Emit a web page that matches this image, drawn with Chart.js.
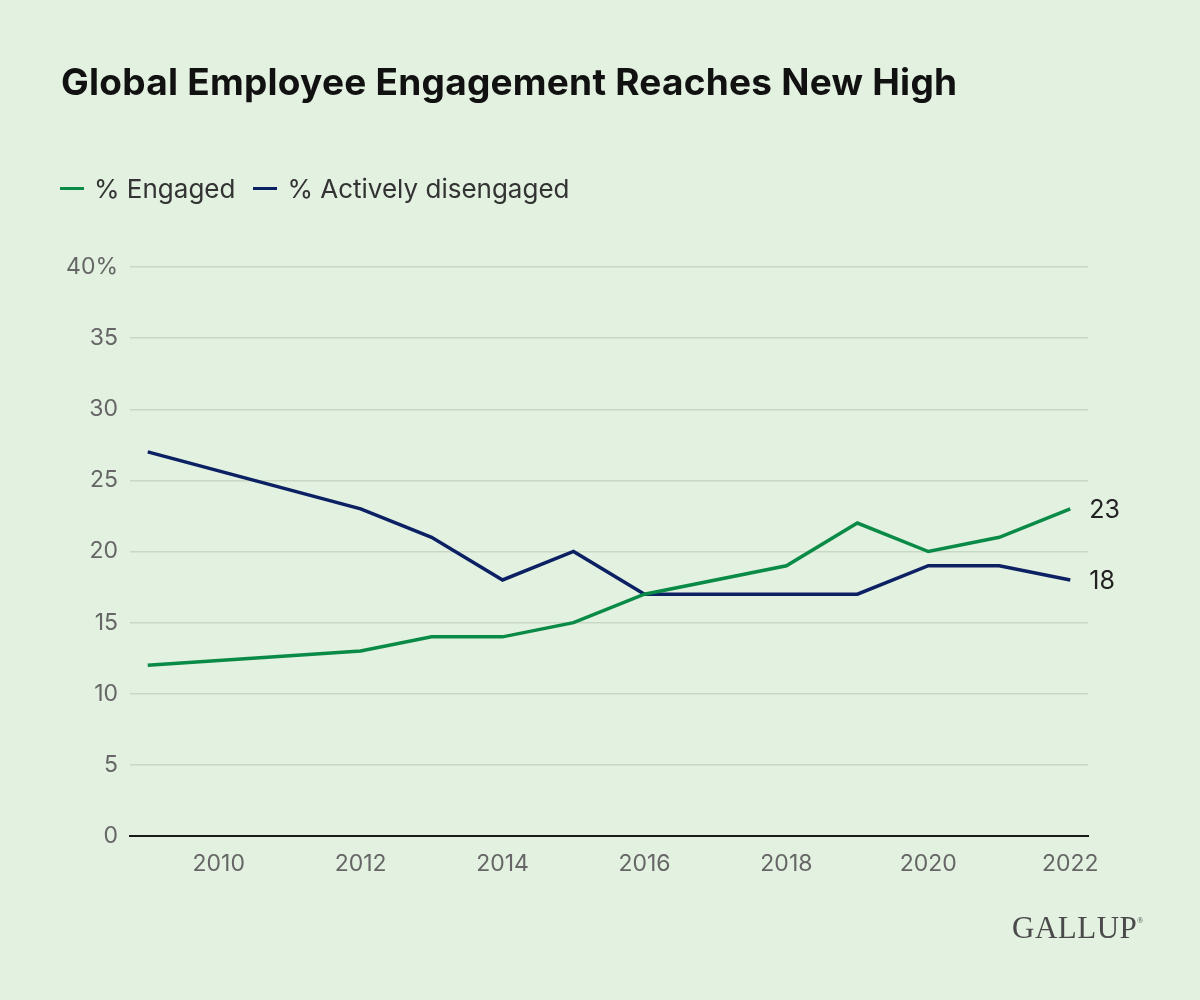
<!DOCTYPE html>
<html lang="en">
<head>
    <meta charset="UTF-8">
    <script src="https://cdn.jsdelivr.net/npm/chart.js@4.4.0/dist/chart.umd.min.js"></script>
    <title>Global Employee Engagement Reaches New High</title>
    <style>
        body { margin: 0; background: #e3f1e1; font-family: Inter, "Noto Sans", sans-serif; }
        #wrap { position: relative; width: 1200px; height: 1000px; }
        h1 { position: absolute; left: 61px; top: 59px; margin: 0; font-size: 37px; font-weight: 700; color: #111; letter-spacing: 0.25px; }
        .legend { position: absolute; top: 173px; left: 60px; font-size: 26px; color: #333; display: flex; align-items: center; }
        .sw { display: inline-block; width: 24px; height: 3px; margin-right: 10px; }
        .item { display: flex; align-items: center; margin-right: 18px; }
        .logo { position: absolute; left: 1012px; top: 910px; font-family: "Liberation Serif", "DejaVu Serif", serif; font-size: 31px; color: #4a4a4a; letter-spacing: 0.5px; }
        .logo sup { font-size: 8px; vertical-align: 15px; }
        canvas { position: absolute; left: 0; top: 0; }
    </style>
</head>
<body>
<div id="wrap">
    <canvas id="chart" width="1200" height="1000"></canvas>
    <h1>Global Employee Engagement Reaches New High</h1>
    <div class="legend">
        <span class="item"><span class="sw" style="background:#0a8a47"></span>% Engaged</span>
        <span class="item"><span class="sw" style="background:#0c2163"></span>% Actively disengaged</span>
    </div>
    <div class="logo">GALLUP<sup>®</sup></div>
</div>
<script>
    // survey years and values
    const years = [2009, 2012, 2013, 2014, 2015, 2016, 2018, 2019, 2020, 2021, 2022];
    const engaged = [12, 13, 14, 14, 15, 17, 19, 22, 20, 21, 23];
    const disengaged = [27, 23, 21, 18, 20, 17, 17, 17, 19, 19, 18];
    const xTicks = [2010, 2012, 2014, 2016, 2018, 2020, 2022];

    const GREEN = '#0a8a47';
    const NAVY = '#0c2163';

    // label the last point of each line
    const endLabels = {
        id: 'endLabels',
        afterDatasetsDraw(chart) {
            const ctx = chart.ctx;
            ctx.save();
            ctx.font = '25px Inter, "Noto Sans", sans-serif';
            ctx.fillStyle = '#222';
            ctx.textBaseline = 'middle';
            chart.data.datasets.forEach((ds, i) => {
                const meta = chart.getDatasetMeta(i);
                const pt = meta.data[meta.data.length - 1];
                const v = ds.data[ds.data.length - 1].y;
                ctx.fillText(String(v), pt.x + 19, pt.y + 2);
            });
            ctx.restore();
        }
    };

    const toPoints = vals => vals.map((v, i) => ({ x: years[i], y: v }));
    const tickFont = { size: 23, family: 'Inter, "Noto Sans", sans-serif' };

    new Chart(document.getElementById('chart'), {
        type: 'line',
        data: {
            datasets: [
                { label: '% Engaged', data: toPoints(engaged), borderColor: GREEN, borderWidth: 3.5, pointRadius: 0, tension: 0 },
                { label: '% Actively disengaged', data: toPoints(disengaged), borderColor: NAVY, borderWidth: 3.5, pointRadius: 0, tension: 0 }
            ]
        },
        options: {
            responsive: false,
            animation: false,
            layout: { padding: { left: 60, top: 267, right: 112, bottom: 0 } },
            plugins: { legend: { display: false }, tooltip: { enabled: false } },
            scales: {
                x: {
                    type: 'linear',
                    min: 2008.75,
                    max: 2022.25,
                    afterBuildTicks: s => { s.ticks = xTicks.map(v => ({ value: v })); },
                    afterFit: s => { s.height = 164; },
                    grid: { display: false, drawTicks: false },
                    border: { display: true, color: '#1a1a1a', width: 2 },
                    ticks: { padding: 14, color: '#666', font: tickFont, callback: v => String(v) }
                },
                y: {
                    min: 0,
                    max: 40,
                    afterFit: s => { s.width = 70; },
                    grid: { color: '#c8d8c5', lineWidth: 1.5, drawTicks: false },
                    border: { display: false },
                    ticks: { stepSize: 5, padding: 12, color: '#666', font: tickFont, callback: v => v === 40 ? '40%' : String(v) }
                }
            }
        },
        plugins: [endLabels]
    });
</script>
</body>
</html>
